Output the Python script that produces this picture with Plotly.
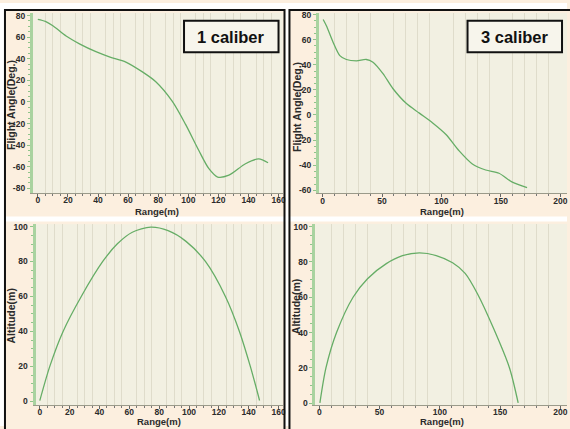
import plotly.graph_objects as go

# ---------------- data ----------------
fa1_range = [0, 5, 10, 18.8, 28, 38.6, 48, 58.5, 69.5, 78.4, 89.4, 98.2, 107, 113.7, 119.5, 127, 138, 146.8, 153]
fa1_angle = [76.4, 74.5, 70.5, 61, 53.5, 46.5, 41.5, 36.9, 27.8, 18.7, 0.5, -20.8, -45, -61.8, -69.5, -67.8, -57.2, -52.7, -56.3]

fa3_range = [0.5, 3.3, 8.9, 14.5, 20, 28.5, 36.8, 42.4, 50.8, 59.1, 70.3, 81.4, 92.6, 103.8, 114.9, 126, 137.2, 148.4, 159.6, 172]
fa3_angle = [76, 70.8, 57.8, 47.3, 44.2, 43.1, 44.2, 42, 32.9, 21.1, 9.3, 1.5, -6.3, -15.5, -28.6, -39, -43.8, -46.4, -53.5, -57.9]

alt1_range = [0, 6.7, 15.6, 27.8, 42.2, 52, 62, 74.4, 86, 98, 111, 124.4, 133.8, 141.1, 147.3]
alt1_alt = [0.4, 20, 40, 60, 80, 90.1, 96.7, 99.6, 97.6, 91.5, 80, 60, 40, 20, 0.5]

alt3_range = [0.5, 5.5, 14.3, 28, 40, 55.6, 69, 83, 97, 110.6, 121, 131.2, 144.8, 157.8, 165]
alt3_alt = [0.2, 20, 40, 60, 70.5, 79, 83.5, 85.1, 83.6, 79.5, 73.5, 62, 42, 20, 0.2]

panel_labels = ["1 caliber", "3 caliber"]
x_title = "Range(m)"
y_title_top = "Flight Angle(Deg.)"
y_title_bottom = "Altitude(m)"
yticks_top1 = [-80, -60, -40, -20, 0, 20, 40, 60, 80]
yticks_top2 = [-60, -40, -20, 0, 20, 40, 60, 80]
yticks_bottom = [0, 20, 40, 60, 80, 100]

# ---------------- layout helpers ----------------
W, H = 570, 429
def px(x):
    return x / W
def py(y):
    return 1 - y / H

PEACH = "#fcefdf"
PLOTBG = "#f2f0e2"
GRID = "#dfdccb"
CURVE = "#66ad66"
YLINE = "#a9d3a0"
TXT = "#2b2b2b"
FONT = "Liberation Sans"

fig = go.Figure()
line_style = dict(color=CURVE, width=1.3, shape="spline", smoothing=0.8)
fig.add_trace(go.Scatter(x=fa1_range, y=fa1_angle, mode="lines", line=line_style, xaxis="x", yaxis="y", showlegend=False))
fig.add_trace(go.Scatter(x=fa3_range, y=fa3_angle, mode="lines", line=line_style, xaxis="x2", yaxis="y2", showlegend=False))
fig.add_trace(go.Scatter(x=alt1_range, y=alt1_alt, mode="lines", line=line_style, xaxis="x3", yaxis="y3", showlegend=False))
fig.add_trace(go.Scatter(x=alt3_range, y=alt3_alt, mode="lines", line=line_style, xaxis="x4", yaxis="y4", showlegend=False))

tickfont = dict(family=FONT, size=8.5, color=TXT, weight="bold")

def xax(domain, rng, dtick, minor_dtick, anchor):
    return dict(domain=domain, range=rng, anchor=anchor, tick0=0, dtick=dtick,
                showgrid=False, zeroline=False, showline=True, linecolor="#9a9a8a", linewidth=1,
                ticks="outside", ticklen=3, tickcolor="#666", tickfont=tickfont,
                ticklabelstandoff=-4,
                minor=dict(dtick=minor_dtick, tick0=0, showgrid=True, gridcolor=GRID, gridwidth=1,
                           ticks="outside", ticklen=2, tickcolor="#777"),
                fixedrange=True)

def yax(domain, rng, anchor, tickvals):
    return dict(domain=domain, range=rng, anchor=anchor, tickvals=tickvals,
                ticktext=[str(v) for v in tickvals],
                showgrid=False, zeroline=False, showline=True, linecolor=YLINE, linewidth=3,
                ticks="outside", ticklen=3, tickcolor="#8fc48a", tickfont=tickfont,
                ticklabelstandoff=0,
                minor=dict(dtick=5, tick0=0, ticks="outside", ticklen=2, tickcolor="#8fc48a", showgrid=False),
                fixedrange=True)

fig.update_layout(
    width=W, height=H,
    margin=dict(l=0, r=0, t=0, b=0),
    paper_bgcolor=PEACH,
    plot_bgcolor=PLOTBG,
    xaxis=xax([px(33), px(284)], [-3.31, 162.6], 20, 5, "y"),
    yaxis=yax([py(192.7), py(10)], [-84.3, 82.46], "x", yticks_top1),
    xaxis2=xax([px(320.7), 1], [-3.01, 205.6], 50, 10, "y2"),
    yaxis2=yax([py(193), py(10)], [-62.36, 81.33], "x2", yticks_top2),
    xaxis3=xax([px(35.7), px(284)], [-2.87, 162.67], 20, 5, "y3"),
    yaxis3=yax([py(407.7), py(224.3)], [-2.09, 101.35], "x3", yticks_bottom),
    xaxis4=xax([px(317), 1], [-3.30, 205.5], 50, 10, "y4"),
    yaxis4=yax([py(408), py(224)], [-1.12, 101.5], "x4", yticks_bottom),
)

shapes = []
# white gaps between the pasted panels
for (x0, y0, x1, y1) in [(0, 0, 570, 6), (0, 0, 4, 429), (287, 0, 290, 429), (0, 216.5, 570, 221.5)]:
    shapes.append(dict(type="rect", xref="paper", yref="paper", x0=px(x0), x1=px(x1), y0=py(y1), y1=py(y0),
                       fillcolor="white", line=dict(width=0), layer="above"))
# black frames around each column
for (x0, x1) in [(5, 286), (291, 576)]:
    shapes.append(dict(type="rect", xref="paper", yref="paper", x0=px(x0), x1=px(x1), y0=py(436), y1=py(7),
                       fillcolor="rgba(0,0,0,0)", line=dict(color="#111", width=2), layer="above"))
# label boxes
for (x0, x1) in [(185, 280), (470, 565)]:
    shapes.append(dict(type="rect", xref="paper", yref="paper", x0=px(x0), x1=px(x1), y0=py(50), y1=py(18),
                       fillcolor="#f7f5ec", line=dict(color="#111", width=2), layer="above"))
fig.update_layout(shapes=shapes)

def note(text, x, y, font, angle=0):
    return dict(text=text, x=px(x), y=py(y), xref="paper", yref="paper", showarrow=False,
                xanchor="center", yanchor="middle", textangle=angle, font=font)

ann = []
lab_font = dict(family=FONT, size=16.5, color="#111", weight="bold")
ann.append(note(panel_labels[0], 232.5, 34, lab_font))
ann.append(note(panel_labels[1], 517.5, 34, lab_font))
tfont = dict(family=FONT, size=9.5, color=TXT, weight="bold")
yfont = dict(family=FONT, size=10.5, color=TXT, weight="bold")
for (x, y) in [(158, 211), (444, 211), (160, 424.5), (444, 424.5)]:
    ann.append(note(x_title, x, y, tfont))
for (x, y) in [(10.5, 103), (298, 105)]:
    ann.append(note(y_title_top, x, y, yfont, -90))
for (x, y) in [(11, 317), (297, 308)]:
    ann.append(note(y_title_bottom, x, y, yfont, -90))
fig.update_layout(annotations=ann)

fig.write_html("out.html")
